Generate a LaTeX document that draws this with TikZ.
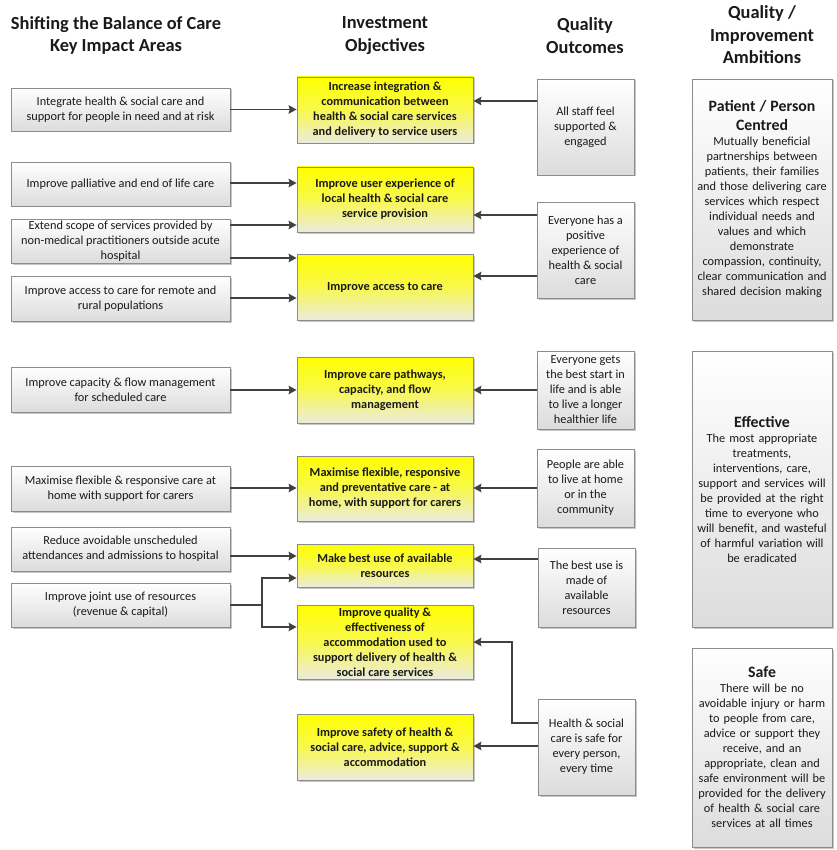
\documentclass[tikz,border=0pt]{standalone}
\usepackage{fontspec}
\setmainfont{Carlito}
\usetikzlibrary{arrows.meta,shadows,calc}
\definecolor{bordergray}{HTML}{8C8C8C}
\definecolor{arrowgray}{HTML}{404040}
\definecolor{boxbottom}{HTML}{DCDCDC}
\definecolor{ylbottom}{HTML}{EBEBDF}
\definecolor{txt}{HTML}{1A1A1A}
\tikzset{
  base/.style={draw=bordergray, line width=0.9pt, inner sep=0pt, align=center,
    font=\fontsize{12.3}{15}\selectfont, text=txt,
    drop shadow={shadow xshift=1.5pt, shadow yshift=-1.5pt, fill=black, opacity=0.22}},
  graybox/.style={base, top color=white, bottom color=boxbottom},
  yelbox/.style={base, top color=yellow, bottom color=ylbottom, middle color=yellow!65!ylbottom,
    font=\fontsize{12.3}{15}\selectfont\bfseries},
  lbox/.style={graybox, minimum width=219pt},
  mbox/.style={yelbox, minimum width=176pt},
  qbox/.style={graybox, minimum width=97pt},
  abox/.style={graybox, minimum width=140pt, text width=140pt},
  conn/.style={draw=arrowgray, line width=1.4pt},
  arr/.style={conn, -{Stealth[length=8pt,width=8.5pt,inset=1.2pt]}},
  title/.style={align=center, font=\fontsize{18.4}{22.5}\selectfont\bfseries, text=txt}
}
\newcommand\ahd[1]{{\fontsize{15.8}{19}\selectfont\bfseries #1\par}}
\begin{document}
\begin{tikzpicture}[x=1pt,y=-1pt]
\useasboundingbox (0,0) rectangle (836,850);
\fill[white] (0,0) rectangle (836,850);

% titles
\node[title] (T1) at (116,35.5) {Shifting the Balance of Care\\Key Impact Areas};
\node[title] (T2) at (385,35.5) {Investment\\Objectives};
\node[title] (T3) at (585,35.5) {Quality\\Outcomes};
\node[title] (T4) at (762,35) {Quality /\\Improvement\\Ambitions};

% left column
\node[lbox, minimum height=43pt] (L1) at (120.5,109.5) {Integrate health \& social care and\\support for people in need and at risk};
\node[lbox, minimum height=44pt] (L2) at (120.5,184) {Improve palliative and end of life care};
\node[lbox, minimum height=44pt] (L3) at (120.5,241) {Extend scope of services provided by\\non-medical practitioners outside acute\\hospital};
\node[lbox, minimum height=45pt] (L4) at (120.5,298.5) {Improve access to care for remote and\\rural populations};
\node[lbox, minimum height=45pt] (L5) at (120.5,389.5) {Improve capacity \& flow management\\for scheduled care};
\node[lbox, minimum height=45pt] (L6) at (120.5,488.5) {Maximise flexible \& responsive care at\\home with support for carers};
\node[lbox, minimum height=44pt] (L7) at (120.5,549) {Reduce avoidable unscheduled\\attendances and admissions to hospital};
\node[lbox, minimum height=44pt] (L8) at (120.5,605) {Improve joint use of resources\\(revenue \& capital)};

% middle column
\node[mbox, minimum height=66pt] (M1) at (385,110) {Increase integration \&\\communication between\\health \& social care services\\and delivery to service users};
\node[mbox, minimum height=65pt] (M2) at (385,199.5) {Improve user experience of\\local health \& social care\\service provision};
\node[mbox, minimum height=66pt] (M3) at (385,287) {Improve access to care};
\node[mbox, minimum height=66pt] (M4) at (385,390) {Improve care pathways,\\capacity, and flow\\management};
\node[mbox, minimum height=65pt] (M5) at (385,488.5) {Maximise flexible, responsive\\and preventative care - at\\home, with support for carers};
\node[mbox, minimum height=43pt] (M6) at (385,565.5) {Make best use of available\\resources};
\node[mbox, minimum height=74pt] (M7) at (385,642) {Improve quality \&\\effectiveness of\\accommodation used to\\support delivery of health \&\\social care services};
\node[mbox, minimum height=66pt] (M8) at (385,747) {Improve safety of health \&\\social care, advice, support \&\\accommodation};

% quality outcomes
\node[qbox, minimum height=96pt] (Q1) at (585.5,127) {All staff feel\\supported \&\\engaged};
\node[qbox, minimum height=96pt] (Q2) at (585.5,250) {Everyone has a\\positive\\experience of\\health \& social\\care};
\node[qbox, minimum height=78pt] (Q3) at (585.5,390) {Everyone gets\\the best start in\\life and is able\\to live a longer\\healthier life};
\node[qbox, minimum height=78pt] (Q4) at (585.5,488) {People are able\\to live at home\\or in the\\community};
\node[qbox, minimum height=79pt] (Q5) at (586.5,587.5) {The best use is\\made of\\available\\resources};
\node[qbox, minimum height=96pt] (Q6) at (586.5,747) {Health \& social\\care is safe for\\every person,\\every time};

% ambitions
\node[abox, minimum height=241pt] (A1) at (762,199.5) {\ahd{Patient / Person\\Centred}Mutually beneficial\\partnerships between\\patients, their families\\and those delivering care\\services which respect\\individual needs and\\values and which\\demonstrate\\compassion, continuity,\\clear communication and\\shared decision making};
\node[abox, minimum height=276pt] (A2) at (762,489) {\ahd{Effective}The most appropriate\\treatments,\\interventions, care,\\support and services will\\be provided at the right\\time to everyone who\\will benefit, and wasteful\\of harmful variation will\\be eradicated};
\node[abox, minimum height=199pt] (A3) at (762,747.5) {\ahd{Safe}There will be no\\avoidable injury or harm\\to people from care,\\advice or support they\\receive, and an\\appropriate, clean and\\safe environment will be\\provided for the delivery\\of health \& social care\\services at all times};

% connectors
\draw[arr] (L1.east) -- (M1.west |- L1.east);
\draw[arr] (Q1.west |- 0,101) -- (M1.east |- 0,101);
\draw[arr] (L2.east |- 0,183) -- (M2.west |- 0,183);
\draw[arr] (L3.east |- 0,225) -- (M2.west |- 0,225);
\draw[arr] (L3.east |- 0,258) -- (M3.west |- 0,258);
\draw[arr] (L4.east |- 0,298) -- (M3.west |- 0,298);
\draw[arr] (Q2.west |- 0,215) -- (M2.east |- 0,215);
\draw[arr] (Q2.west |- 0,276) -- (M3.east |- 0,276);
\draw[arr] (L5.east |- 0,390) -- (M4.west |- 0,390);
\draw[arr] (Q3.west |- 0,390) -- (M4.east |- 0,390);
\draw[arr] (L6.east |- 0,488) -- (M5.west |- 0,488);
\draw[arr] (Q4.west |- 0,488) -- (M5.east |- 0,488);
\draw[arr] (L7.east |- 0,556) -- (M6.west |- 0,556);
\draw[arr] (Q5.west |- 0,559) -- (M6.east |- 0,559);
\coordinate (J) at (262,605);
\draw[conn] (L8.east) -- (J);
\draw[arr] (J) |- (M6.west |- 0,578);
\draw[arr] (J) |- (M7.west |- 0,627);
\coordinate (K) at (512,723);
\draw[arr] (Q6.west |- K) -- (K) |- (M7.east |- 0,642);
\draw[arr] (Q6.west |- 0,746) -- (M8.east |- 0,746);
\end{tikzpicture}
\end{document}
